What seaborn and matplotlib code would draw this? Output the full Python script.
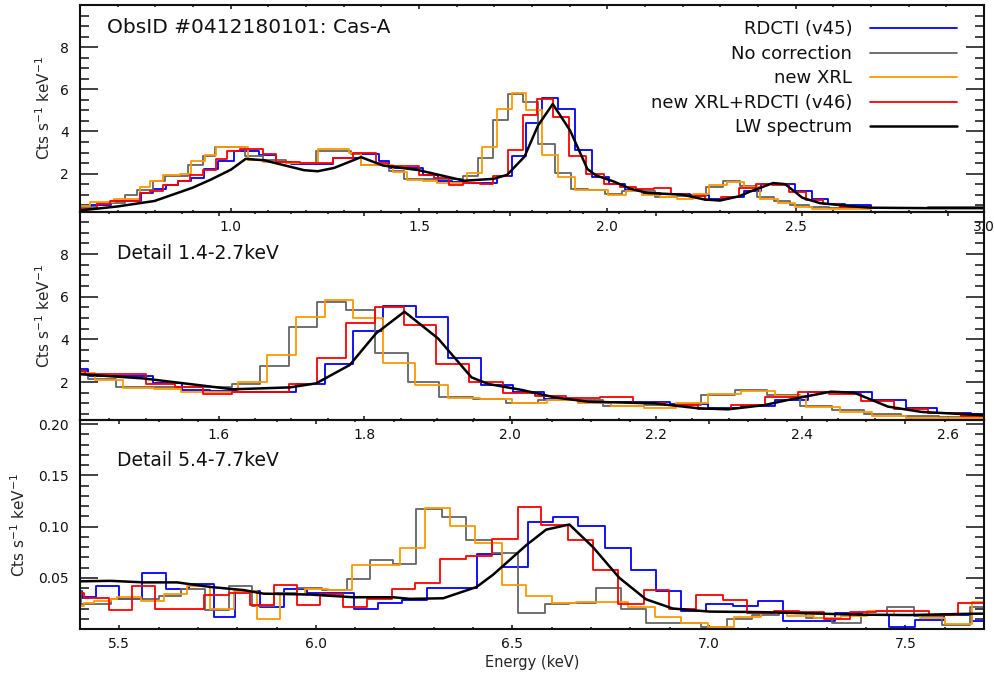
import matplotlib
matplotlib.use("Agg")
import matplotlib.pyplot as plt
import seaborn as sns
import numpy as np
from matplotlib.ticker import MultipleLocator, FixedLocator, FormatStrFormatter

# ---- soft band (0.6-3.0 keV): bin edges + values, per series ----
soft_edges_blue = [0.600, 0.630, 0.683, 0.762, 0.793, 0.829, 0.859, 0.895, 0.930, 0.966, 1.010,
                   1.076, 1.120, 1.160, 1.231, 1.271, 1.347, 1.395, 1.4215, 1.5105, 1.5493, 1.5881,
                   1.6269, 1.7069, 1.7457, 1.7845, 1.8256, 1.8703, 1.9146, 1.9594, 2.004, 2.047,
                   2.093, 2.139, 2.219, 2.271, 2.317, 2.363, 2.408, 2.497, 2.543, 2.586, 2.632,
                   2.70, 2.85, 3.0]
soft_vals_blue = [0.33, 0.50, 0.70, 1.09, 1.25, 1.48, 1.64, 1.80, 2.22, 2.58, 3.09,
                  2.89, 2.55, 2.45, 2.45, 2.75, 2.95, 2.61, 2.28, 1.94, 1.63,
                  1.60, 1.55, 1.89, 2.84, 4.39, 5.58, 5.06, 3.14, 1.86, 1.52,
                  1.20, 1.08, 1.05, 0.97, 0.77, 0.89, 1.16, 1.52, 1.16, 0.77, 0.56,
                  0.49, 0.38, 0.36]

soft_edges_gray = [0.600, 0.644, 0.719, 0.750, 0.794, 0.825, 0.887, 0.927, 0.958, 1.037, 1.086,
                   1.148, 1.227, 1.319, 1.346, 1.421, 1.460, 1.618, 1.657, 1.696, 1.735, 1.775,
                   1.815, 1.860, 1.903, 1.949, 1.995, 2.038, 2.127, 2.184, 2.262, 2.308, 2.353,
                   2.397, 2.442, 2.486, 2.536, 2.588, 2.65, 2.75, 2.85, 3.0]
soft_vals_gray = [0.39, 0.59, 0.98, 1.22, 1.64, 1.87, 2.39, 2.84, 3.28, 2.84,
                  2.66, 2.50, 3.09, 2.95, 2.42, 2.12, 1.75, 1.89, 2.75, 4.56, 5.77,
                  5.38, 3.38, 2.02, 1.28, 1.22, 1.03, 1.15, 0.88, 0.92, 1.38, 1.65,
                  1.39, 0.88, 0.70, 0.50, 0.40, 0.35, 0.36, 0.36, 0.40]

soft_edges_orange = [0.600, 0.626, 0.690, 0.759, 0.785, 0.821, 0.865, 0.896, 0.931, 0.962, 1.046,
                     1.086, 1.148, 1.232, 1.315, 1.346, 1.431, 1.469, 1.511, 1.549, 1.627, 1.667,
                     1.706, 1.746, 1.785, 1.826, 1.869, 1.915, 1.958, 2.002, 2.050, 2.093, 2.139,
                     2.184, 2.228, 2.271, 2.317, 2.363, 2.406, 2.452, 2.497, 2.543, 2.586, 2.70, 3.0]
soft_vals_orange = [0.47, 0.67, 0.78, 1.36, 1.64, 1.91, 1.98, 2.61, 2.89, 3.28,
                    2.66, 2.55, 2.50, 3.15, 3.00, 2.41, 2.09, 1.70, 1.67, 1.55, 2.02,
                    3.27, 5.06, 5.84, 5.00, 2.90, 1.86, 1.23, 1.20, 1.00, 1.16, 1.00,
                    0.89, 0.80, 1.03, 1.44, 1.59, 1.36, 0.81, 0.61, 0.41, 0.33, 0.30, 0.35]

soft_edges_red = [0.600, 0.644, 0.679, 0.759, 0.785, 0.821, 0.860, 0.891, 0.927, 0.962, 0.989,
                  1.024, 1.086, 1.121, 1.183, 1.271, 1.325, 1.386, 1.417, 1.501, 1.540, 1.579,
                  1.618, 1.661, 1.696, 1.735, 1.775, 1.814, 1.855, 1.899, 1.944, 1.990, 2.034,
                  2.077, 2.123, 2.169, 2.212, 2.258, 2.303, 2.349, 2.395, 2.438, 2.481, 2.527,
                  2.573, 2.618, 2.70, 3.0]
soft_vals_red = [0.31, 0.55, 0.70, 1.09, 1.17, 1.44, 1.64, 1.95, 2.19, 2.69,
                 3.05, 3.16, 2.94, 2.55, 2.50, 2.73, 2.97, 2.50, 2.36, 1.91, 1.78,
                 1.44, 1.55, 1.52, 1.89, 3.11, 4.78, 5.53, 4.67, 2.84, 1.98, 1.50,
                 1.36, 1.27, 1.31, 1.03, 0.92, 0.74, 0.91, 1.31, 1.52, 1.44, 1.11,
                 0.74, 0.56, 0.42, 0.36]

soft_lw_e = [0.600, 0.700, 0.798, 0.899, 0.948, 1.001, 1.040, 1.089, 1.195, 1.231, 1.275, 1.346,
             1.405, 1.497, 1.620, 1.698, 1.734, 1.780, 1.816, 1.855, 1.901, 1.947, 1.970, 2.016,
             2.061, 2.107, 2.198, 2.258, 2.299, 2.349, 2.381, 2.440, 2.472, 2.518, 2.564, 2.646,
             2.70, 2.85, 3.0]
soft_lw_v = [0.25, 0.44, 0.70, 1.33, 1.72, 2.19, 2.70, 2.63, 2.16, 2.11, 2.27, 2.78,
             2.38, 2.17, 1.66, 1.75, 1.94, 2.80, 4.28, 5.30, 4.05, 2.22, 1.91, 1.63,
             1.28, 1.08, 1.00, 0.77, 0.72, 0.92, 1.16, 1.55, 1.50, 0.85, 0.60, 0.45,
             0.38, 0.36, 0.36]

# ---- hard band (5.4-7.7 keV) ----
hard_edges_blue = [5.400, 5.406, 5.440, 5.499, 5.558, 5.618, 5.677, 5.740, 5.795, 5.859, 5.918,
                   5.977, 6.036, 6.096, 6.159, 6.218, 6.282, 6.345, 6.409, 6.473, 6.541, 6.604,
                   6.668, 6.735, 6.803, 6.866, 6.930, 6.993, 7.061, 7.124, 7.188, 7.322, 7.390,
                   7.458, 7.525, 7.597, 7.669, 7.70]
hard_vals_blue = [0.037, 0.031, 0.042, 0.029, 0.055, 0.039, 0.044, 0.012, 0.037, 0.021,
                  0.039, 0.035, 0.035, 0.020, 0.025, 0.028, 0.040, 0.040, 0.073, 0.061,
                  0.104, 0.109, 0.101, 0.079, 0.058, 0.037, 0.0175, 0.024, 0.022, 0.027,
                  0.008, 0.016, 0.014, 0.002, 0.009, 0.014, 0.008]

hard_edges_gray = [5.400, 5.402, 5.478, 5.601, 5.656, 5.719, 5.778, 5.838, 5.893, 5.952, 6.015,
                   6.079, 6.138, 6.197, 6.256, 6.320, 6.383, 6.447, 6.514, 6.582, 6.645, 6.713,
                   6.777, 6.840, 6.980, 7.047, 7.111, 7.178, 7.246, 7.314, 7.386, 7.453, 7.521,
                   7.593, 7.665, 7.70]
hard_vals_gray = [0.037, 0.024, 0.029, 0.032, 0.039, 0.019, 0.042, 0.022, 0.035, 0.040,
                  0.038, 0.049, 0.067, 0.063, 0.117, 0.109, 0.087, 0.074, 0.016, 0.024,
                  0.025, 0.040, 0.020, 0.006, 0.0023, 0.010, 0.014, 0.016, 0.011, 0.006,
                  0.014, 0.021, 0.013, 0.004, 0.021]

hard_edges_orange = [5.400, 5.410, 5.436, 5.478, 5.495, 5.554, 5.613, 5.673, 5.732, 5.791, 5.850,
                     5.909, 5.973, 6.032, 6.091, 6.214, 6.277, 6.341, 6.404, 6.473, 6.536, 6.600,
                     6.663, 6.794, 6.862, 6.930, 6.997, 7.064, 7.132, 7.200, 7.267, 7.335, 7.403,
                     7.470, 7.538, 7.601, 7.669, 7.70]
hard_vals_orange = [0.022, 0.025, 0.027, 0.029, 0.031, 0.027, 0.034, 0.042, 0.020, 0.037,
                    0.010, 0.034, 0.039, 0.038, 0.062, 0.079, 0.118, 0.101, 0.084, 0.043,
                    0.032, 0.025, 0.026, 0.021, 0.012, 0.006, 0.0023, 0.012, 0.017, 0.013,
                    0.011, 0.013, 0.018, 0.014, 0.011, 0.005, 0.026]

hard_edges_red = [5.400, 5.410, 5.474, 5.533, 5.592, 5.715, 5.778, 5.833, 5.893, 5.952, 6.011,
                  6.070, 6.129, 6.193, 6.252, 6.316, 6.383, 6.447, 6.514, 6.574, 6.641, 6.705,
                  6.768, 6.836, 6.899, 6.967, 7.035, 7.098, 7.166, 7.229, 7.293, 7.360, 7.424,
                  7.491, 7.559, 7.635, 7.70]
hard_vals_red = [0.035, 0.030, 0.019, 0.042, 0.020, 0.033, 0.035, 0.023, 0.043, 0.023,
                 0.034, 0.021, 0.029, 0.039, 0.045, 0.068, 0.071, 0.088, 0.119, 0.102,
                 0.087, 0.058, 0.024, 0.038, 0.020, 0.033, 0.028, 0.016, 0.018, 0.017,
                 0.010, 0.017, 0.018, 0.018, 0.014, 0.025]

hard_lw_e = [5.393, 5.478, 5.563, 5.647, 5.732, 5.816, 5.867, 5.986, 6.096, 6.197, 6.239, 6.324,
             6.409, 6.451, 6.536, 6.586, 6.645, 6.705, 6.772, 6.840, 6.908, 7.001, 7.128, 7.382,
             7.508, 7.669, 7.70]
hard_lw_v = [0.0465, 0.047, 0.0455, 0.0455, 0.041, 0.038, 0.0345, 0.0336, 0.031, 0.031, 0.0294,
             0.030, 0.041, 0.053, 0.082, 0.097, 0.102, 0.080, 0.050, 0.029, 0.020, 0.017,
             0.0165, 0.014, 0.0136, 0.0149, 0.015]

labels = ["RDCTI (v45)", "No correction", "new XRL", "new XRL+RDCTI (v46)", "LW spectrum"]
colors = ["#0000ff", "#646464", "#ff9900", "#ff0000", "#000000"]

soft = [(soft_edges_blue, soft_vals_blue), (soft_edges_gray, soft_vals_gray),
        (soft_edges_orange, soft_vals_orange), (soft_edges_red, soft_vals_red)]
hard = [(hard_edges_blue, hard_vals_blue), (hard_edges_gray, hard_vals_gray),
        (hard_edges_orange, hard_vals_orange), (hard_edges_red, hard_vals_red)]

sns.set_style("ticks")
plt.rcParams['font.family'] = ['DejaVu Sans']

fig = plt.figure(figsize=(9.94, 6.77), dpi=100)
W = 994.0
H = 677.0
x0, x1 = 80, 984
ax_top = fig.add_axes([x0 / W, 1 - 211.5 / H, (x1 - x0) / W, 206.5 / H])
ax_mid = fig.add_axes([x0 / W, 1 - 420 / H, (x1 - x0) / W, 208.5 / H])
ax_bot = fig.add_axes([x0 / W, 1 - 629 / H, (x1 - x0) / W, 209 / H])


def draw(ax, hists, lw_e, lw_v, with_labels=False):
    for i, (e, v) in enumerate(hists):
        yy = list(v) + [v[-1]]
        sns.lineplot(x=e, y=yy, drawstyle="steps-post", color=colors[i], linewidth=1.3,
                     ax=ax, errorbar=None, sort=False,
                     label=labels[i] if with_labels else None, legend=False)
    sns.lineplot(x=lw_e, y=lw_v, color=colors[4], linewidth=1.8, ax=ax, errorbar=None,
                 sort=False, label=labels[4] if with_labels else None, legend=False)


draw(ax_top, soft, soft_lw_e, soft_lw_v, with_labels=True)
draw(ax_mid, soft, soft_lw_e, soft_lw_v)
draw(ax_bot, hard, hard_lw_e, hard_lw_v)

ax_top.set_xlim(0.6, 3.0)
ax_top.set_ylim(0.2, 10)
ax_mid.set_xlim(1.41, 2.65)
ax_mid.set_ylim(0.22, 10)
ax_bot.set_xlim(5.4, 7.7)
ax_bot.set_ylim(0.0, 0.204)

for ax in (ax_top, ax_mid):
    ax.yaxis.set_major_locator(FixedLocator([2, 4, 6, 8]))
    ax.yaxis.set_minor_locator(MultipleLocator(0.5))
    ax.yaxis.set_major_formatter(FormatStrFormatter('%d'))
ax_bot.yaxis.set_major_locator(FixedLocator([0.05, 0.10, 0.15, 0.20]))
ax_bot.yaxis.set_minor_locator(MultipleLocator(0.01))
ax_bot.yaxis.set_major_formatter(FormatStrFormatter('%.2f'))

ax_top.xaxis.set_major_locator(FixedLocator([1.0, 1.5, 2.0, 2.5, 3.0]))
ax_top.xaxis.set_minor_locator(MultipleLocator(0.1))
ax_mid.xaxis.set_major_locator(FixedLocator([1.6, 1.8, 2.0, 2.2, 2.4, 2.6]))
ax_mid.xaxis.set_minor_locator(MultipleLocator(0.05))
ax_bot.xaxis.set_major_locator(FixedLocator([5.5, 6.0, 6.5, 7.0, 7.5]))
ax_bot.xaxis.set_minor_locator(MultipleLocator(0.1))

for ax in (ax_top, ax_mid, ax_bot):
    ax.xaxis.set_major_formatter(FormatStrFormatter('%.1f'))
    ax.tick_params(which='both', direction='in', top=True, right=True, labelsize=10,
                   width=1.2, colors='#222222', labelcolor='#111111')
    ax.tick_params(axis='y', which='major', length=13, pad=8)
    ax.tick_params(axis='y', which='minor', length=6.5)
    ax.tick_params(axis='x', which='major', length=3, pad=6)
    ax.tick_params(axis='x', which='minor', length=1.5)
    for s in ax.spines.values():
        s.set_linewidth(1.5)
        s.set_color('#111111')
    ax.set_xlabel("")
    ax.set_ylabel("Cts s$^{-1}$ keV$^{-1}$", fontsize=11)
    ax.patch.set_alpha(0)

ax_top.yaxis.set_label_coords(-0.030, 0.5)
ax_mid.yaxis.set_label_coords(-0.030, 0.5)
ax_bot.yaxis.set_label_coords(-0.058, 0.5)
ax_bot.set_xlabel("Energy (keV)", fontsize=10.5, labelpad=3)

ax_top.text(0.030, 0.893, "ObsID #0412180101: Cas-A", transform=ax_top.transAxes,
            fontsize=14.5, va='center', ha='left', color='#111111')
ax_mid.text(0.041, 0.80, "Detail 1.4-2.7keV", transform=ax_mid.transAxes,
            fontsize=13.5, va='center', ha='left', color='#111111')
ax_bot.text(0.041, 0.804, "Detail 5.4-7.7keV", transform=ax_bot.transAxes,
            fontsize=13.5, va='center', ha='left', color='#111111')

leg = ax_top.legend(loc='upper right', bbox_to_anchor=(0.970, 0.925), frameon=False,
                    markerfirst=False, fontsize=13, handlelength=4.8, handletextpad=1.0,
                    labelspacing=0.36, borderpad=0, borderaxespad=0)
for t in leg.get_texts():
    t.set_color('#111111')

fig.savefig("out.png", dpi=100)
